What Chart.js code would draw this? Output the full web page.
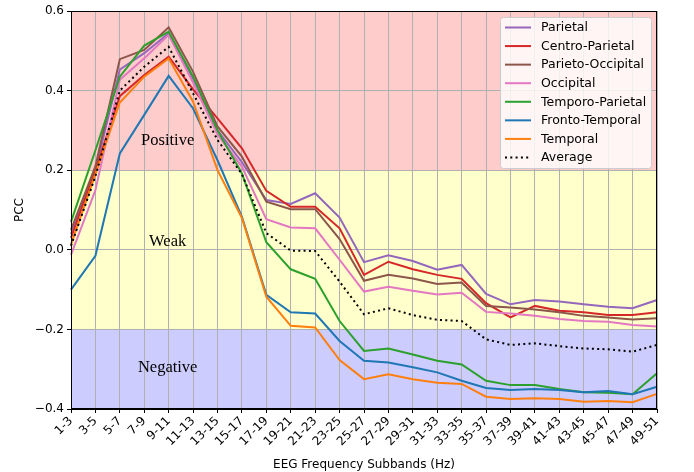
<!DOCTYPE html>
<html>
<head>
<meta charset="utf-8">
<title>PCC by EEG Frequency Subband</title>
<script src="https://cdn.jsdelivr.net/npm/chart.js@4.4.1/dist/chart.umd.min.js"></script>
<style>
  body { margin: 0; background: #fff; }
  #wrap { width: 694px; height: 472px; }
</style>
</head>
<body>
<div id="wrap"><canvas id="my-chart" width="694" height="472"></canvas></div>
<script>
'use strict';

// ************ Data *******************

let subbands = ['1-3', '3-5', '5-7', '7-9', '9-11', '11-13', '13-15', '15-17', '17-19', '19-21',
  '21-23', '23-25', '25-27', '27-29', '29-31', '31-33', '33-35', '35-37', '37-39', '39-41',
  '41-43', '43-45', '45-47', '47-49', '49-51'];

let parietal = [0.04, 0.20, 0.453, 0.494, 0.544, 0.43, 0.30, 0.22, 0.125, 0.115,
  0.142, 0.081, -0.031, -0.014, -0.028, -0.05, -0.038, -0.111, -0.137, -0.126,
  -0.13, -0.137, -0.143, -0.147, -0.126];
let centroParietal = [0.03, 0.20, 0.386, 0.439, 0.485, 0.403, 0.33, 0.255, 0.148, 0.108,
  0.108, 0.054, -0.063, -0.03, -0.049, -0.063, -0.073, -0.134, -0.17, -0.141,
  -0.153, -0.157, -0.164, -0.164, -0.157];
let parietoOccipital = [0.05, 0.21, 0.479, 0.502, 0.559, 0.447, 0.31, 0.234, 0.121, 0.102,
  0.102, 0.027, -0.078, -0.063, -0.072, -0.086, -0.082, -0.141, -0.145, -0.15,
  -0.157, -0.166, -0.17, -0.175, -0.172];
let occipital = [-0.013, 0.15, 0.427, 0.481, 0.54, 0.42, 0.29, 0.209, 0.077, 0.056,
  0.054, -0.025, -0.105, -0.093, -0.103, -0.112, -0.108, -0.156, -0.16, -0.166,
  -0.174, -0.179, -0.181, -0.189, -0.193];
let temporoParietal = [0.07, 0.25, 0.435, 0.513, 0.548, 0.435, 0.30, 0.192, 0.019, -0.049,
  -0.073, -0.179, -0.254, -0.248, -0.263, -0.279, -0.288, -0.329, -0.34, -0.34,
  -0.35, -0.358, -0.359, -0.363, -0.31];
let frontoTemporal = [-0.10, -0.015, 0.242, 0.339, 0.437, 0.355, 0.225, 0.083, -0.113, -0.157,
  -0.16, -0.229, -0.279, -0.283, -0.295, -0.308, -0.329, -0.347, -0.352, -0.35,
  -0.352, -0.358, -0.355, -0.363, -0.344];
let temporal = [0.013, 0.19, 0.37, 0.435, 0.481, 0.372, 0.20, 0.08, -0.118, -0.191,
  -0.195, -0.277, -0.325, -0.313, -0.325, -0.334, -0.337, -0.369, -0.375, -0.373,
  -0.375, -0.382, -0.38, -0.383, -0.362];
let average = [0.01, 0.185, 0.40, 0.46, 0.51, 0.393, 0.276, 0.19, 0.042, -0.002,
  -0.003, -0.08, -0.162, -0.147, -0.164, -0.176, -0.179, -0.225, -0.239, -0.235,
  -0.242, -0.248, -0.25, -0.256, -0.239];

let yTicks = [-0.4, -0.2, 0.0, 0.2, 0.4, 0.6];

// ************ Bands *******************

let bands = [
  { from: 0.2, to: 0.6, color: '#ffcccc', label: 'Positive', at: 0.275 },
  { from: -0.2, to: 0.2, color: '#ffffcc', label: 'Weak', at: 0.02 },
  { from: -0.4, to: -0.2, color: '#ccccff', label: 'Negative', at: -0.295 }
];

// ************ Series *******************

let seriesList = [
  { name: 'Parietal', data: parietal, color: '#9467bd' },
  { name: 'Centro-Parietal', data: centroParietal, color: '#d62728' },
  { name: 'Parieto-Occipital', data: parietoOccipital, color: '#8c564b' },
  { name: 'Occipital', data: occipital, color: '#e377c2' },
  { name: 'Temporo-Parietal', data: temporoParietal, color: '#2ca02c' },
  { name: 'Fronto-Temporal', data: frontoTemporal, color: '#1f77b4' },
  { name: 'Temporal', data: temporal, color: '#ff7f0e' },
  { name: 'Average', data: average, color: '#000000', dash: [2, 3.3] }
];

let datasets = [];
for (let i = 0; i < seriesList.length; i++) {
  let s = seriesList[i];
  datasets.push({
    label: s.name,
    data: s.data,
    borderColor: s.color,
    backgroundColor: s.color,
    borderWidth: 2,
    borderDash: s.dash || [],
    pointRadius: 0,
    tension: 0,
    fill: false,
    order: seriesList.length - i
  });
}

// ************ Plugins *******************

let bandPlugin = {
  id: 'bands',
  beforeDraw(chart) {
    let ctx = chart.ctx;
    let area = chart.chartArea;
    let y = chart.scales.y;
    ctx.save();
    for (let b of bands) {
      let top = y.getPixelForValue(b.to);
      let bottom = y.getPixelForValue(b.from);
      ctx.fillStyle = b.color;
      ctx.fillRect(area.left, top, area.right - area.left, bottom - top);
    }
    ctx.restore();
  },
  beforeDatasetsDraw(chart) {
    let ctx = chart.ctx;
    let x = chart.scales.x;
    let y = chart.scales.y;
    let cx = (x.getPixelForValue(3) + x.getPixelForValue(5)) / 2 - 1;
    ctx.save();
    ctx.fillStyle = '#000';
    ctx.font = '16.5px "Liberation Serif", "DejaVu Serif", serif';
    ctx.textAlign = 'center';
    ctx.textBaseline = 'middle';
    for (let b of bands) {
      ctx.fillText(b.label, cx, y.getPixelForValue(b.at));
    }
    ctx.restore();
  },
  afterDraw(chart) {
    let ctx = chart.ctx;
    let area = chart.chartArea;
    ctx.save();
    // frame
    ctx.strokeStyle = '#000';
    ctx.lineWidth = 1;
    ctx.strokeRect(area.left + 0.5, area.top + 0.5, area.right - area.left - 1, area.bottom - area.top - 1);

    // legend
    let boxL = 500.5, boxT = 17.5, boxW = 151, boxH = 151;
    ctx.fillStyle = 'rgba(255,255,255,0.8)';
    ctx.strokeStyle = '#cccccc';
    ctx.beginPath();
    ctx.roundRect(boxL, boxT, boxW, boxH, 3);
    ctx.fill();
    ctx.stroke();
    ctx.font = '12.5px "DejaVu Sans", sans-serif';
    ctx.textBaseline = 'middle';
    ctx.textAlign = 'left';
    for (let i = 0; i < seriesList.length; i++) {
      let s = seriesList[i];
      let rowY = 27.5 + i * 18.57;
      ctx.strokeStyle = s.color;
      ctx.lineWidth = 2;
      ctx.setLineDash(s.dash || []);
      ctx.beginPath();
      ctx.moveTo(505, rowY);
      ctx.lineTo(531, rowY);
      ctx.stroke();
      ctx.setLineDash([]);
      ctx.fillStyle = '#000';
      ctx.fillText(s.name, 541, rowY + 0.5);
    }
    ctx.restore();
  }
};

// ************ Chart *******************

Chart.defaults.color = '#000';
Chart.defaults.font.family = '"DejaVu Sans", sans-serif';

let canvasElem = document.getElementById('my-chart');

new Chart(canvasElem, {
  type: 'line',
  data: {
    labels: subbands,
    datasets: datasets
  },
  options: {
    responsive: false,
    animation: false,
    layout: { padding: { top: 11, right: 37, left: 0, bottom: 0 } },
    plugins: {
      legend: { display: false },
      tooltip: { enabled: false }
    },
    scales: {
      x: {
        offset: false,
        afterFit(scale) { scale.height = 63; },
        grid: { color: '#b0b0b0', tickColor: '#000', tickLength: 4, lineWidth: 1 },
        border: { display: true, color: '#000' },
        ticks: {
          autoSkip: false,
          minRotation: 45,
          maxRotation: 45,
          padding: 1,
          font: { size: 12 }
        },
        title: {
          display: true,
          text: 'EEG Frequency Subbands (Hz)',
          font: { size: 12 },
          padding: { top: 2, bottom: 0 }
        }
      },
      y: {
        min: -0.4,
        max: 0.6,
        afterFit(scale) { scale.width = 71; },
        afterBuildTicks(scale) {
          scale.ticks = yTicks.map(v => ({ value: v }));
        },
        grid: { color: '#b0b0b0', tickColor: '#000', tickLength: 4, lineWidth: 1 },
        border: { display: true, color: '#000' },
        ticks: {
          padding: 3,
          font: { size: 12 },
          callback(v) {
            if (Math.abs(v) < 1e-9) return '0.0';
            return v.toFixed(1).replace('-', '\u2212');
          }
        },
        title: {
          display: true,
          text: 'PCC',
          font: { size: 12 },
          padding: { top: 13, bottom: 0 }
        }
      }
    }
  },
  plugins: [bandPlugin]
});
</script>
</body>
</html>
